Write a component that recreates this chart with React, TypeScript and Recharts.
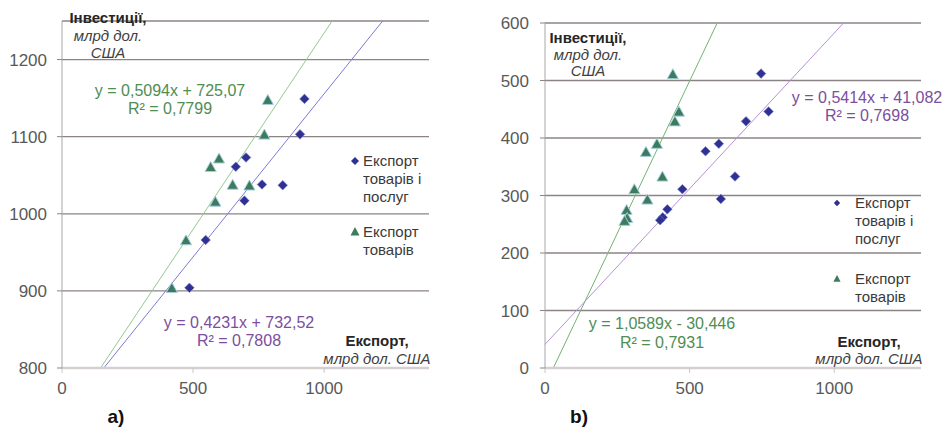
import React from 'react';
import {
  ScatterChart,
  Scatter,
  XAxis,
  YAxis,
  CartesianGrid,
  ReferenceLine,
  Legend,
} from 'recharts';

// a) investments vs export, bn USD
const goodsServicesA = [
  { x: 925, y: 1149 },
  { x: 908, y: 1103 },
  { x: 702, y: 1073 },
  { x: 663, y: 1061 },
  { x: 763, y: 1038 },
  { x: 842, y: 1037 },
  { x: 696, y: 1017 },
  { x: 548, y: 966 },
  { x: 486, y: 904 },
];
const goodsA = [
  { x: 785, y: 1147 },
  { x: 772, y: 1102 },
  { x: 599, y: 1071 },
  { x: 567, y: 1060 },
  { x: 651, y: 1037 },
  { x: 715, y: 1036 },
  { x: 585, y: 1015 },
  { x: 473, y: 965 },
  { x: 419, y: 903 },
];

// b)
const goodsServicesB = [
  { x: 747, y: 512 },
  { x: 773, y: 446 },
  { x: 695, y: 429 },
  { x: 601, y: 390 },
  { x: 555, y: 377 },
  { x: 657, y: 333 },
  { x: 475, y: 311 },
  { x: 608, y: 294 },
  { x: 423, y: 276 },
  { x: 407, y: 262 },
  { x: 398, y: 257 },
];
const goodsB = [
  { x: 442, y: 510 },
  { x: 463, y: 445 },
  { x: 449, y: 428 },
  { x: 387, y: 389 },
  { x: 349, y: 375 },
  { x: 406, y: 332 },
  { x: 309, y: 310 },
  { x: 354, y: 292 },
  { x: 282, y: 274 },
  { x: 284, y: 260 },
  { x: 275, y: 255 },
];

// trend lines: [slope, intercept]
const trendGoodsServicesA = [0.4231, 732.52];
const trendGoodsA = [0.5094, 725.07];
const trendGoodsServicesB = [0.5414, 41.082];
const trendGoodsB = [1.0589, -30.446];

const xTicksA = [0, 500, 1000];
const yTicksA = [800, 900, 1000, 1100, 1200];
const xTicksB = [0, 500, 1000];
const yTicksB = [0, 100, 200, 300, 400, 500, 600];

const seriesNames = ['Експорт товарів і послуг', 'Експорт товарів'];
const legendLines = [['Експорт', 'товарів і', 'послуг'], ['Експорт', 'товарів']];

const FONT = '"Liberation Sans", Arial, sans-serif';
const GRID = '#8c8484';
const DIAMOND = '#2e3192';
const TRI = '#3c7b5c';

function segment(t: number[], xd: number[], yd: number[]) {
  const [m, b] = t;
  const x1 = Math.max(xd[0], (yd[0] - b) / m);
  const x2 = Math.min(xd[1], (yd[1] - b) / m);
  return [
    { x: x1, y: m * x1 + b },
    { x: x2, y: m * x2 + b },
  ];
}

const Diamond = (props: any) => {
  const { cx, cy } = props;
  const r = 4.8;
  return (
    <polygon
      points={`${cx},${cy - r} ${cx + r},${cy} ${cx},${cy + r} ${cx - r},${cy}`}
      fill={DIAMOND}
      stroke="#7a7ec8"
      strokeWidth={0.6}
    />
  );
};

const Triangle = (props: any) => {
  const { cx, cy } = props;
  return (
    <polygon
      points={`${cx},${cy - 6} ${cx + 5.6},${cy + 4} ${cx - 5.6},${cy + 4}`}
      fill={TRI}
      stroke="#a9cfe0"
      strokeWidth={1}
    />
  );
};

function LegendBox({ markerX, textX, gap, small }: { markerX: number; textX: number; gap: number; small?: boolean }) {
  const s = small ? 0.8 : 1;
  return (
    <div style={{ position: 'relative', fontFamily: FONT, fontSize: 15, color: '#3a3a3a', lineHeight: '18px' }}>
      {legendLines.map((lines, i) => (
        <div key={i} style={{ position: 'relative', marginBottom: gap, height: lines.length * 18 }}>
          <svg width={14} height={14} style={{ position: 'absolute', left: markerX - 7, top: 2 }}>
            {i === 0 ? (
              <polygon points={`7,${7 - 4 * s} ${7 + 4 * s},7 7,${7 + 4 * s} ${7 - 4 * s},7`} fill={DIAMOND} />
            ) : (
              <polygon points={`7,${7 - 5 * s} ${7 + 4.5 * s},${7 + 3.5 * s} ${7 - 4.5 * s},${7 + 3.5 * s}`} fill={TRI} />
            )}
          </svg>
          <div style={{ position: 'absolute', left: textX, top: 0, whiteSpace: 'nowrap' }}>
            {lines.map((l) => (
              <div key={l}>{l}</div>
            ))}
          </div>
        </div>
      ))}
    </div>
  );
}

type Note = { x: number; y: number; text: string; color: string; weight?: string; style?: string; size?: number };

function Overlay({ notes }: { notes: Note[] }) {
  return (
    <svg width={470} height={427} style={{ position: 'absolute', left: 0, top: 0, pointerEvents: 'none' }}>
      {notes.map((n, i) => (
        <text
          key={i}
          x={n.x}
          y={n.y}
          textAnchor="middle"
          dominantBaseline="central"
          fill={n.color}
          fontFamily={FONT}
          fontSize={n.size ?? 16}
          fontWeight={n.weight ?? 'normal'}
          fontStyle={n.style ?? 'normal'}
        >
          {n.text}
        </text>
      ))}
    </svg>
  );
}

const tickStyle = { fill: '#595959', fontSize: 17, fontFamily: FONT };

function Panel({
  xTicks,
  yTicks,
  xDomain,
  yDomain,
  gs,
  g,
  tGs,
  tG,
  yAxisWidth,
  margin,
  tickMarginY,
  lineGs,
  lineG,
  legend,
  notes,
}: any) {
  return (
    <div style={{ position: 'relative', width: 470, height: 427 }}>
      <ScatterChart width={470} height={427} margin={margin}>
        <CartesianGrid horizontal vertical={false} stroke={GRID} strokeWidth={1.3} />
        <XAxis
          type="number"
          dataKey="x"
          domain={xDomain}
          ticks={xTicks}
          allowDataOverflow
          height={30}
          tick={tickStyle}
          tickSize={5}
          tickMargin={9}
          axisLine={{ stroke: '#d6cfcf', strokeWidth: 2.5 }}
          tickLine={{ stroke: '#c8c8c8' }}
        />
        <YAxis
          type="number"
          dataKey="y"
          domain={yDomain}
          ticks={yTicks}
          allowDataOverflow
          width={yAxisWidth}
          tick={tickStyle}
          tickSize={5}
          tickMargin={tickMarginY}
          axisLine={{ stroke: '#a8a8a8' }}
          tickLine={{ stroke: GRID }}
        />
        <ReferenceLine segment={segment(tG, xDomain, yDomain)} stroke={lineG} strokeWidth={1} ifOverflow="visible" />
        <ReferenceLine segment={segment(tGs, xDomain, yDomain)} stroke={lineGs} strokeWidth={1} ifOverflow="visible" />
        <Scatter name={seriesNames[0]} data={gs} shape={Diamond} fill={DIAMOND} isAnimationActive={false} />
        <Scatter name={seriesNames[1]} data={g} shape={Triangle} fill={TRI} isAnimationActive={false} />
        <Legend
          layout="vertical"
          align="center"
          verticalAlign="middle"
          wrapperStyle={{ left: legend.left, top: legend.top, width: 110, height: 150 }}
          content={() => <LegendBox markerX={legend.markerX} textX={legend.textX} gap={legend.gap} small={legend.small} />}
        />
      </ScatterChart>
      <Overlay notes={notes} />
    </div>
  );
}

const GREEN_TXT = '#4f8d52';
const PURPLE_TXT = '#7b4e9e';
const TITLE = '#262626';
const SUB = '#3f3f3f';

export default function App() {
  const notesA: Note[] = [
    { x: 108, y: 17, text: 'Інвестиції,', color: TITLE, weight: 'bold', size: 15 },
    { x: 108, y: 35, text: 'млрд дол.', color: SUB, style: 'italic', size: 15 },
    { x: 108, y: 52, text: 'США', color: SUB, style: 'italic', size: 15 },
    { x: 377, y: 340, text: 'Експорт,', color: TITLE, weight: 'bold', size: 15 },
    { x: 377, y: 358, text: 'млрд дол. США', color: SUB, style: 'italic', size: 15 },
    { x: 170, y: 90, text: 'y = 0,5094x + 725,07', color: GREEN_TXT },
    { x: 170, y: 108, text: 'R² = 0,7799', color: GREEN_TXT },
    { x: 239, y: 322, text: 'y = 0,4231x + 732,52', color: PURPLE_TXT },
    { x: 239, y: 340, text: 'R² = 0,7808', color: PURPLE_TXT },
    { x: 116, y: 416, text: 'a)', color: '#111', weight: 'bold', size: 19 },
  ];
  const notesB: Note[] = [
    { x: 112, y: 37, text: 'Інвестиції,', color: TITLE, weight: 'bold', size: 15 },
    { x: 112, y: 54, text: 'млрд дол.', color: SUB, style: 'italic', size: 15 },
    { x: 112, y: 70, text: 'США', color: SUB, style: 'italic', size: 15 },
    { x: 393, y: 341, text: 'Експорт,', color: TITLE, weight: 'bold', size: 15 },
    { x: 393, y: 358, text: 'млрд дол. США', color: SUB, style: 'italic', size: 15 },
    { x: 391, y: 97, text: 'y = 0,5414x + 41,082', color: PURPLE_TXT },
    { x: 391, y: 115, text: 'R² = 0,7698', color: PURPLE_TXT },
    { x: 186, y: 323, text: 'y = 1,0589x - 30,446', color: GREEN_TXT },
    { x: 186, y: 342, text: 'R² = 0,7931', color: GREEN_TXT },
    { x: 103, y: 416, text: 'b)', color: '#111', weight: 'bold', size: 19 },
  ];

  return (
    <div style={{ position: 'absolute', left: 0, top: 0, width: 946, height: 427, background: '#fff' }}>
      <div style={{ position: 'absolute', left: 0, top: 0 }}>
        <Panel
          xTicks={xTicksA}
          yTicks={yTicksA}
          xDomain={[0, 1400]}
          yDomain={[800, 1250]}
          gs={goodsServicesA}
          g={goodsA}
          tGs={trendGoodsServicesA}
          tG={trendGoodsA}
          yAxisWidth={62}
          margin={{ top: 21, right: 41, bottom: 29, left: 0 }}
          tickMarginY={10}
          lineGs="#7b7bd6"
          lineG="#92c992"
          legend={{ left: 345, top: 152, markerX: 10, textX: 18, gap: 17 }}
          notes={notesA}
        />
      </div>
      <div style={{ position: 'absolute', left: 476, top: 0 }}>
        <Panel
          xTicks={xTicksB}
          yTicks={yTicksB}
          xDomain={[0, 1300]}
          yDomain={[0, 600]}
          gs={goodsServicesB}
          g={goodsB}
          tGs={trendGoodsServicesB}
          tG={trendGoodsB}
          yAxisWidth={69}
          margin={{ top: 23, right: 25, bottom: 29, left: 0 }}
          tickMarginY={11}
          lineGs="#b592d2"
          lineG="#74b274"
          legend={{ left: 351, top: 194, markerX: 10, textX: 28, gap: 22, small: true }}
          notes={notesB}
        />
      </div>
    </div>
  );
}
